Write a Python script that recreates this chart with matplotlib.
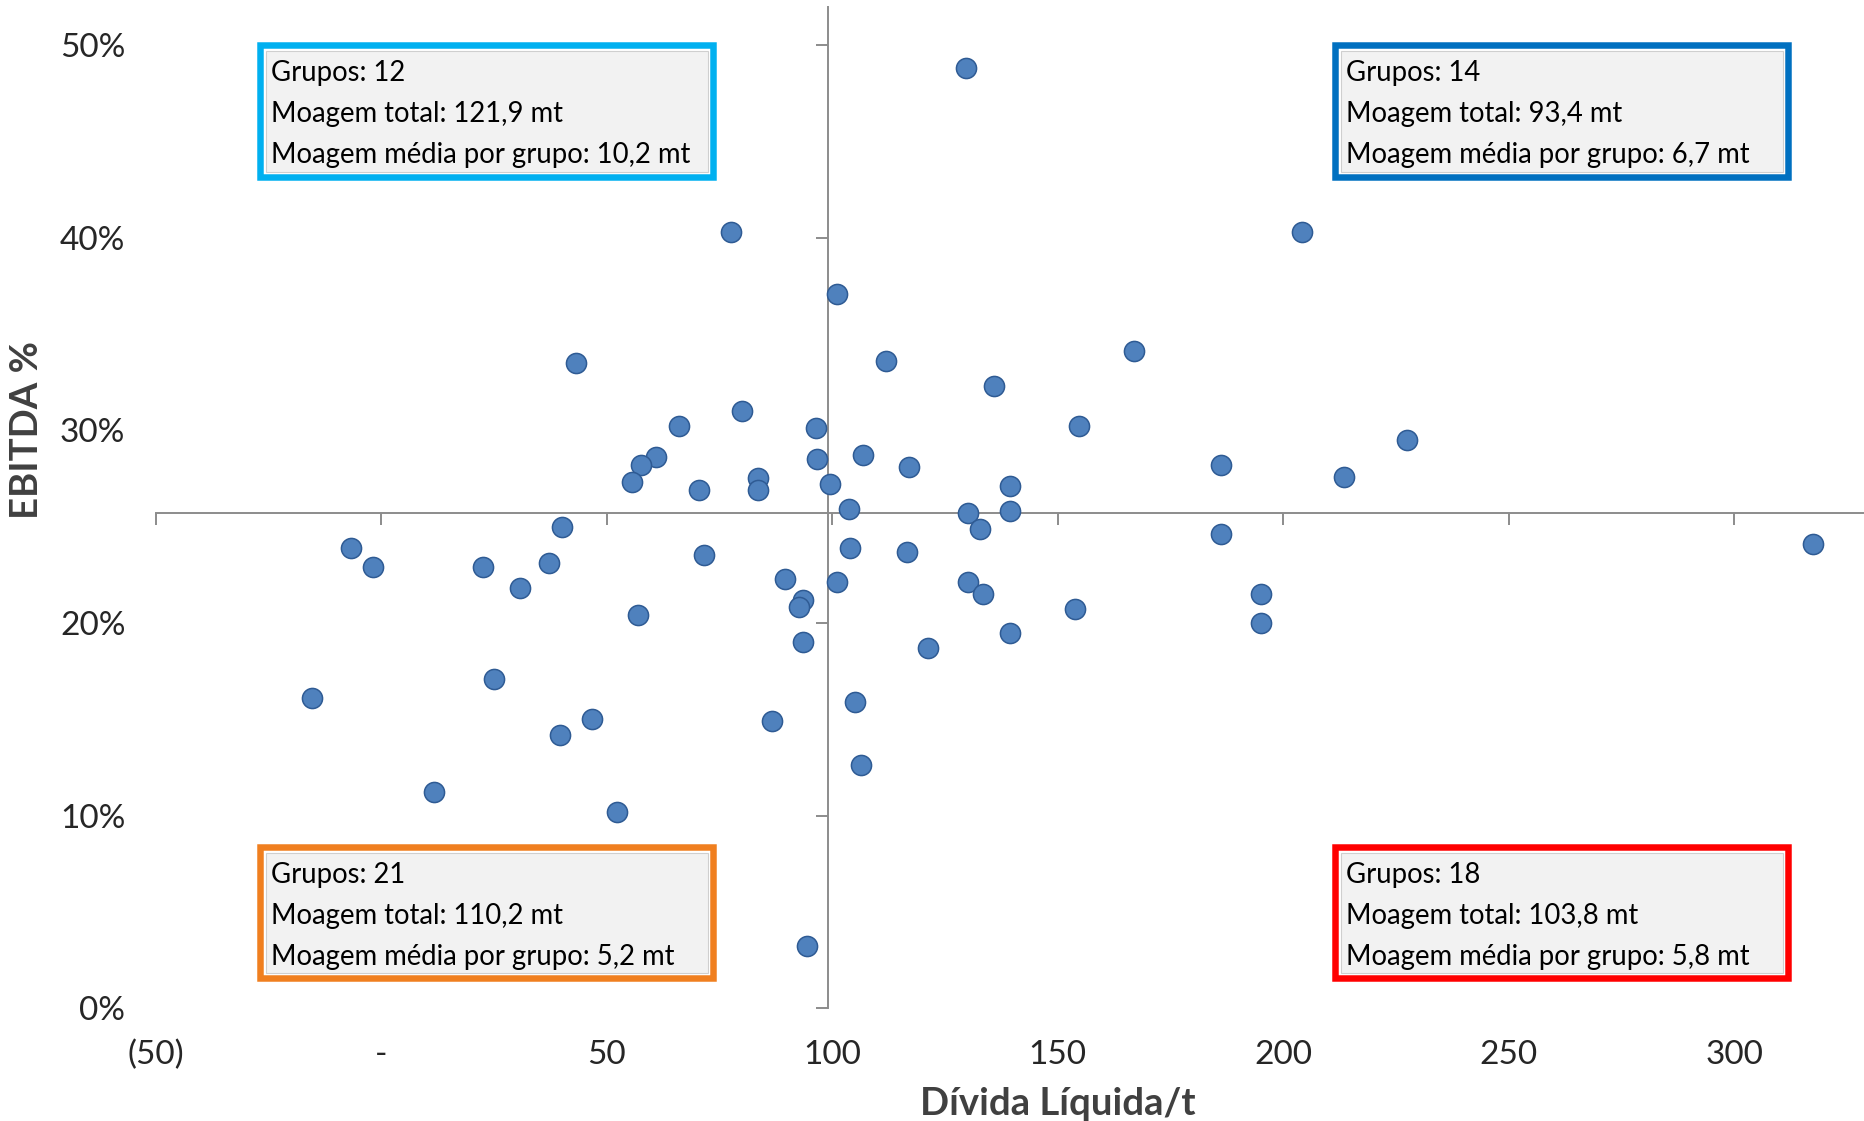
import matplotlib
matplotlib.use('Agg')
import matplotlib.pyplot as plt
from matplotlib.patches import Rectangle
from matplotlib.ticker import FixedLocator, FixedFormatter

# ---------------- data ----------------
divida = [129.6, 77.5, 204.1, 101.1, 111.8, 43.2, 166.8, 135.8, 154.6, 66.1,
          80.0, 96.3, 227.5, 60.8, 57.6, 96.6, 106.7, 117.0, 186.3, 55.5,
          83.6, 83.6, 70.4, 99.4, 139.4, 213.4, 103.8, 130.1, 139.4, 132.7,
          40.0, 186.2, -6.7, -1.9, 22.6, 37.2, 30.8, 71.5, 104.0, 116.5,
          317.5, 89.6, 101.1, 130.1, 133.4, 195.1, 93.5, 92.6, 56.9, 153.9,
          195.1, 139.5, 93.5, 121.3, -15.3, 25.0, 105.1, 46.6, 86.6, 39.6,
          106.4, 11.7, 52.2, 94.4]
ebitda = [48.8, 40.3, 40.3, 37.1, 33.6, 33.5, 34.1, 32.3, 30.2, 30.2,
          31.0, 30.1, 29.5, 28.6, 28.2, 28.5, 28.7, 28.1, 28.2, 27.3,
          27.5, 26.9, 26.9, 27.2, 27.1, 27.6, 25.9, 25.7, 25.8, 24.9,
          25.0, 24.6, 23.9, 22.9, 22.9, 23.1, 21.8, 23.5, 23.9, 23.7,
          24.1, 22.3, 22.1, 22.1, 21.5, 21.5, 21.2, 20.8, 20.4, 20.7,
          20.0, 19.5, 19.0, 18.7, 16.1, 17.1, 15.9, 15.0, 14.9, 14.2,
          12.6, 11.2, 10.2, 3.2]

x_ticks = [-50, 0, 50, 100, 150, 200, 250, 300]
x_tick_labels = ['(50)', '-', '50', '100', '150', '200', '250', '300']
y_ticks = [0, 10, 20, 30, 40, 50]
y_tick_labels = ['0%', '10%', '20%', '30%', '40%', '50%']
x_cross = 99.0
y_cross = 25.7

x_title = 'Dívida Líquida/t'
y_title = 'EBITDA %'

box_tl = ['Grupos: 12', 'Moagem total: 121,9 mt', 'Moagem média por grupo: 10,2 mt']
box_tr = ['Grupos: 14', 'Moagem total: 93,4 mt', 'Moagem média por grupo: 6,7 mt']
box_bl = ['Grupos: 21', 'Moagem total: 110,2 mt', 'Moagem média por grupo: 5,2 mt']
box_br = ['Grupos: 18', 'Moagem total: 103,8 mt', 'Moagem média por grupo: 5,8 mt']

# ---------------- style ----------------
W, H = 1864, 1121
FONT = ['Lato', 'DejaVu Sans']
plt.rcParams['font.family'] = FONT
AX_COLOR = '#8C8C8C'
TXT_COLOR = '#262626'

fig = plt.figure(figsize=(W / 100, H / 100), dpi=100)
fig.patch.set_facecolor('white')

left_px, right_px = 156.0, 1864.0
bottom_px, top_px = 1008.1, 6.6
pos = [left_px / W, 1 - bottom_px / H, (right_px - left_px) / W, (bottom_px - top_px) / H]

# label axes (behind)
ax_lab = fig.add_axes(pos)
ax_lab.set_zorder(0)
# main axes (lines + points)
ax = fig.add_axes(pos, sharex=ax_lab, sharey=ax_lab)
ax.set_zorder(1)
ax.patch.set_alpha(0)

ax_lab.set_xlim(-50, 328.8)
ax_lab.set_ylim(0, 52)
ax_lab.xaxis.set_major_locator(FixedLocator(x_ticks))
ax_lab.yaxis.set_major_locator(FixedLocator(y_ticks))
ax_lab.xaxis.set_major_formatter(FixedFormatter(x_tick_labels))
ax_lab.yaxis.set_major_formatter(FixedFormatter(y_tick_labels))
for s in ax_lab.spines.values():
    s.set_visible(False)
ax_lab.tick_params(axis='x', length=0, pad=23, labelsize=24, labelcolor=TXT_COLOR)
ax_lab.tick_params(axis='y', length=0, pad=22, labelsize=24, labelcolor=TXT_COLOR)
ax_lab.set_facecolor('white')

# crossing axes
for side in ['top', 'right']:
    ax.spines[side].set_visible(False)
ax.spines['left'].set_position(('data', x_cross))
ax.spines['bottom'].set_position(('data', y_cross))
for side in ['left', 'bottom']:
    ax.spines[side].set_color(AX_COLOR)
    ax.spines[side].set_linewidth(1.4)
    ax.spines[side].set_zorder(2)
ax.tick_params(axis='both', direction='out', length=8.5, width=1.4, color=AX_COLOR,
               labelbottom=False, labelleft=False)

ax.plot(divida, ebitda, linestyle='none', marker='o', markersize=14.5,
        markerfacecolor='#4F81BD', markeredgecolor='#2F5B94', markeredgewidth=1.1,
        zorder=3, clip_on=False)

# axis titles
fig.text(27 / W, 1 - 430 / H, y_title, rotation=90, ha='center', va='center',
         fontsize=27.5, fontweight='bold', color='#404040')
fig.text(1058 / W, 1 - 1104 / H, x_title, ha='center', va='center',
         fontsize=27.5, fontweight='bold', color='#404040')

# quadrant boxes (pixel layout)
def add_box(x0, y0, x1, y1, color, lines):
    lw_px = 6.5
    inset = lw_px / 2
    r = Rectangle(((x0 + inset) / W, 1 - (y1 - inset) / H),
                  (x1 - x0 - lw_px) / W, (y1 - y0 - lw_px) / H,
                  transform=fig.transFigure, facecolor='white',
                  edgecolor=color, linewidth=lw_px * 0.72, zorder=5)
    fig.add_artist(r)
    g = 8.5
    r2 = Rectangle(((x0 + g) / W, 1 - (y1 - g) / H),
                   (x1 - x0 - 2 * g) / W, (y1 - y0 - 2 * g) / H,
                   transform=fig.transFigure, facecolor='#F2F2F2',
                   edgecolor='#CFCFCF', linewidth=0.8, zorder=6)
    fig.add_artist(r2)
    for i, t in enumerate(lines):
        fig.text((x0 + 14) / W, 1 - (y0 + 39.5 + 40.5 * i) / H, t,
                 ha='left', va='baseline', fontsize=19.8, color='black', zorder=7)

add_box(257, 42, 716, 180, '#00B0F0', box_tl)
add_box(1332, 42, 1791, 180, '#0070C0', box_tr)
add_box(257, 844, 716, 981, '#F07F1F', box_bl)
add_box(1332, 844, 1791, 981, '#FF0000', box_br)

fig.savefig('out.png', dpi=100, facecolor='white')
